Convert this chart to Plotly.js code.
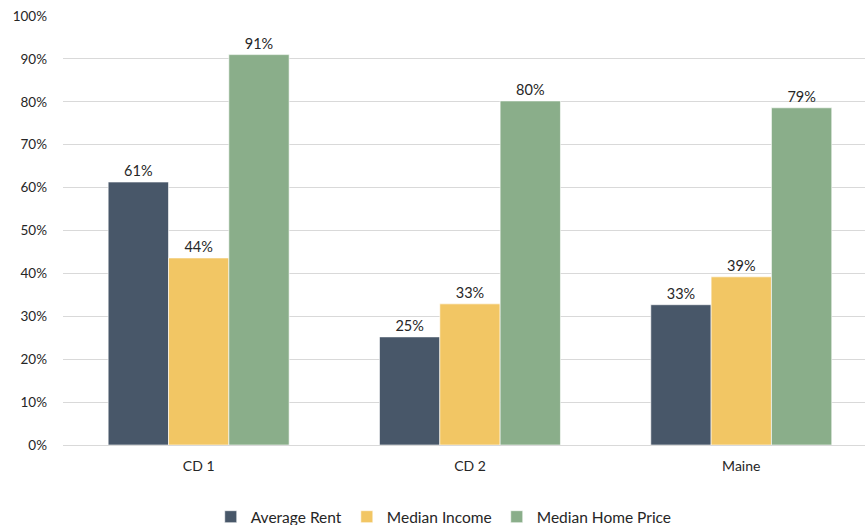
<!DOCTYPE html>
<html>
<head>
<meta charset="utf-8">
<script src="https://cdn.plot.ly/plotly-3.0.1.min.js"></script>
<style>html,body{margin:0;padding:0;background:#fff}#chart{width:865px;height:525px}</style>
</head>
<body>
<div id="chart"></div>
<script>
const categories = ["CD 1", "CD 2", "Maine"];
const averageRent = [0.613, 0.252, 0.327];
const medianIncome = [0.436, 0.329, 0.392];
const medianHomePrice = [0.910, 0.802, 0.786];
const yTickVals = [0, 0.1, 0.2, 0.3, 0.4, 0.5, 0.6, 0.7, 0.8, 0.9, 1.0];
const yTickText = ["0%", "10%", "20%", "30%", "40%", "50%", "60%", "70%", "80%", "90%", "100%"];

const FONT = "Lato, 'Open Sans', sans-serif";
function mk(name, vals, color) {
  return {
    type: "bar", name: name, x: categories, y: vals,
    marker: {color: color, line: {color: "#ffffff", width: 0.6}},
    texttemplate: "%{y:.0%}", textposition: "outside", cliponaxis: false,
    textfont: {family: FONT, size: 14.5, color: "#262626"},
    hoverinfo: "none"
  };
}
const data = [
  mk("Average Rent", averageRent, "#485769"),
  mk("Median Income", medianIncome, "#F2C664"),
  mk("Median Home Price", medianHomePrice, "#8AAE8A")
];
const layout = {
  width: 865, height: 525,
  margin: {l: 63, r: 0, t: 16, b: 80},
  paper_bgcolor: "#fff", plot_bgcolor: "#fff",
  barmode: "group", bargap: 0.333, bargroupgap: 0,
  font: {family: FONT, size: 13.5, color: "#262626"},
  xaxis: {type: "category", range: [-0.5, 2.456], showgrid: false, zeroline: false, showline: false,
    ticks: "", ticklabelstandoff: 11, tickfont: {family: FONT, size: 14, color: "#262626"}, fixedrange: true},
  yaxis: {range: [0, 1], tickvals: yTickVals, ticktext: yTickText, showgrid: true, gridcolor: "#D9D9D9",
    gridwidth: 1, zeroline: true, zerolinecolor: "#D9D9D9", zerolinewidth: 1, showline: false, ticks: "",
    ticklabelstandoff: 15, tickfont: {family: FONT, size: 13.5, color: "#262626"}, fixedrange: true},
  showlegend: true,
  legend: {orientation: "h", x: 0.513, xref: "container", xanchor: "center", y: 0.015, yref: "container", yanchor: "middle",
    font: {family: FONT, size: 15.5, color: "#262626"}, itemwidth: 30, traceorder: "normal"}
};
Plotly.newPlot("chart", data, layout, {displayModeBar: false, staticPlot: true});
</script>
</body>
</html>
